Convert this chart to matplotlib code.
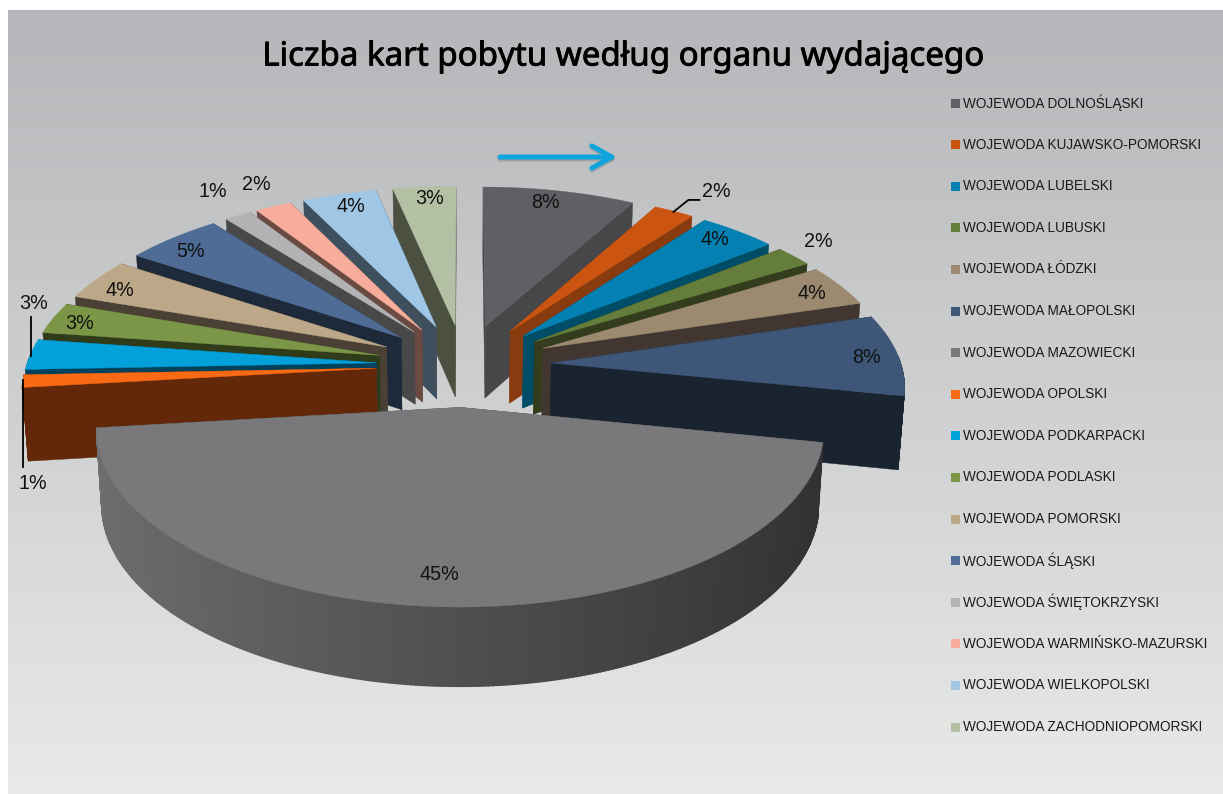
import numpy as np
import matplotlib
matplotlib.use('Agg')
import matplotlib.pyplot as plt
import matplotlib.patheffects as pe
from matplotlib.patches import Polygon, Rectangle

names = ['WOJEWODA DOLNOŚLĄSKI', 'WOJEWODA KUJAWSKO-POMORSKI', 'WOJEWODA LUBELSKI',
         'WOJEWODA LUBUSKI', 'WOJEWODA ŁÓDZKI', 'WOJEWODA MAŁOPOLSKI',
         'WOJEWODA MAZOWIECKI', 'WOJEWODA OPOLSKI', 'WOJEWODA PODKARPACKI',
         'WOJEWODA PODLASKI', 'WOJEWODA POMORSKI', 'WOJEWODA ŚLĄSKI',
         'WOJEWODA ŚWIĘTOKRZYSKI', 'WOJEWODA WARMIŃSKO-MAZURSKI',
         'WOJEWODA WIELKOPOLSKI', 'WOJEWODA ZACHODNIOPOMORSKI']
values = [8.0, 2.1, 4.1, 2.0, 4.0, 7.8, 44.8, 1.2, 2.9, 3.0, 4.0, 5.1, 1.4, 1.9, 3.9, 3.3]

top_colors = ['#615f64', '#cb5510', '#0480b3', '#647d3b', '#9b8a6f', '#3e5677', '#79797b', '#f86a14',
              '#04a0d9', '#7b9647', '#bca888', '#4e6c95', '#b3b3b5', '#f8ad9c', '#9fc6e5', '#b3c0a4']
wall_colors = ['#474749', '#873b0e', '#004d68', '#333d1d', '#423730', '#192430', '#444446', '#63280a',
               '#00415c', '#303c19', '#4a4036', '#1e2a3a', '#484849', '#6b4a42', '#3e4f5e', '#4b5040']

# label offsets in pixels from the point at 0.85 of the radius
label_nudge = [(-4, -7), (65, -36), (7, -6), (61, -27), (15, -1), (20, 1), (-6, 1), (-43, 104),
               (-49, -52), (-22, 0), (-18, 1), (-14, -1), (-50, -40), (-38, -39), (-2, -6), (1, -7)]
# leader lines, offsets from the label centre
leaders = {1: [(-17, 8), (-28, 8), (-43, 20)], 7: [(-10, -103), (-10, -16)], 8: [(-2, 13), (-2, 52)]}

W, H = 1223, 794
CX, CY = 464, 365
SX, SY = 350, 164.6
PERSP = 0.12
DEPTH = 73
EXPLODE = 0.25


# fake the 3D view: x to the right, y away from the viewer, z down in pixels
def project(x, y, z=0.0):
    x, y = np.asarray(x, float), np.asarray(y, float)
    den = 1 + PERSP * y
    shrink = 1 - 0.014 * z / DEPTH
    sx = CX + SX * x / den * shrink
    sy = CY - SY * y / den + z * (1 - 0.07 * y)
    return sx, sy


def quad_strip(ax, xs, ys, color, zorder, lw=0.3):
    px, py = project(xs, ys)
    qx, qy = project(xs, ys, DEPTH)
    pts = np.column_stack([np.r_[px, qx[::-1]], np.r_[py, qy[::-1]]])
    ax.add_patch(Polygon(pts, closed=True, fc=color, ec=color, lw=lw, zorder=zorder))


fig = plt.figure(figsize=(W / 100, H / 100), dpi=100)
ax = fig.add_axes([0, 0, 1, 1])
ax.axis('off')

# background gradient
grad = np.linspace(0, 1, 256).reshape(-1, 1, 1)
c0 = np.array([0xb5, 0xb6, 0xb9]) / 255
c1 = np.array([0xe8, 0xea, 0xe8]) / 255
ax.imshow(c0 + (c1 - c0) * grad, extent=(8, W, H, 10), aspect='auto', zorder=0)
ax.set_xlim(0, W)
ax.set_ylim(H, 0)

fracs = np.array(values) / sum(values)
edges = np.r_[0, np.cumsum(fracs)] * 2 * np.pi
mids = (edges[:-1] + edges[1:]) / 2

rim_light = np.array([0x6e, 0x6e, 0x71]) / 255
rim_dark = np.array([0x31, 0x31, 0x32]) / 255

# far slices first so the near ones cover them
order = np.argsort(-np.cos(mids))
z = 2
for i in order:
    a0, a1 = edges[i], edges[i + 1]
    ex, ey = EXPLODE * np.sin(mids[i]), EXPLODE * np.cos(mids[i])
    t = np.linspace(a0, a1, max(int(values[i] * 6), 12))
    rx, ry = ex + np.sin(t), ey + np.cos(t)

    # the radial walls, the one further back goes first
    walls = sorted([a0, a1], key=lambda a: -np.cos(a))
    for a in walls:
        quad_strip(ax, np.array([ex, ex + np.sin(a)]), np.array([ey, ey + np.cos(a)]), wall_colors[i], z)
        z += 1
    # the rim, only the part facing us shows
    for k in range(len(t) - 1):
        if np.cos(t[k]) < 0.05:
            if i == 6:
                # big slice has a lit rim, lighter on the left and dark on the right
                u = (rx[k] - rx.min()) / (rx.max() - rx.min())
                quad_strip(ax, rx[k:k + 2], ry[k:k + 2], tuple(rim_light + (rim_dark - rim_light) * u), z, lw=1.0)
            else:
                quad_strip(ax, rx[k:k + 2], ry[k:k + 2], wall_colors[i], z)
    z += 1
    tx, ty = project(np.r_[ex, rx], np.r_[ey, ry])
    ax.add_patch(Polygon(np.column_stack([tx, ty]), closed=True, fc=top_colors[i], ec=top_colors[i],
                         lw=0.3, zorder=z))
    z += 1

# data labels
for i, val in enumerate(values):
    lx, ly = project((EXPLODE + 0.85) * np.sin(mids[i]), (EXPLODE + 0.85) * np.cos(mids[i]))
    lx, ly = lx + label_nudge[i][0], ly + label_nudge[i][1]
    ax.text(lx, ly, '%d%%' % round(val), ha='center', va='center', fontsize=14.2,
            family='Liberation Sans', color='#111111', zorder=200)
    if i in leaders:
        ax.plot([lx + p[0] for p in leaders[i]], [ly + p[1] for p in leaders[i]], color='black', lw=1.3, zorder=199)

ax.text(623, 57, 'Liczba kart pobytu według organu wydającego', ha='center', va='center', fontsize=23.8,
        family='Noto Sans', color='black', zorder=200,
        path_effects=[pe.withStroke(linewidth=0.6, foreground='black')])

# legend
rows = np.linspace(103, 727, len(names))
for name, col, y in zip(names, top_colors, rows):
    ax.add_patch(Rectangle((951, y - 4.5), 9, 9, fc=col, ec='none', zorder=200))
    ax.text(963, y, name, ha='left', va='center', fontsize=9.8, family='Liberation Sans', color='#1a1a1a', zorder=200)

# the arrow above the pie, with its soft shadow
for off, col, alpha in [(2, '#707070', 0.35), (0, '#0ea5de', 1)]:
    ax.annotate('', xy=(617, 157 + off), xytext=(500, 157 + off), zorder=150,
                arrowprops=dict(arrowstyle='->,head_length=0.72,head_width=0.4', lw=3.6, color=col, alpha=alpha,
                                mutation_scale=20, shrinkA=0, shrinkB=0))

plt.savefig('out.png', dpi=100)
